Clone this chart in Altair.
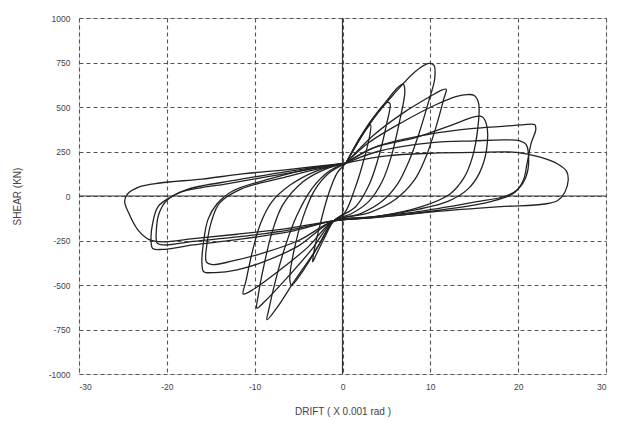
import altair as alt
import pandas as pd

# Hysteresis cycles: (drift x0.001 rad, shear kN)
CYCLE_A = [(0.4, 185), (1.5, 285), (2.6, 370), (3.2, 400), (3.1, 340), (2.3, 180), (1.4, 40), (0.3, -90),
           (-1.0, -140), (-2.0, -230), (-3.0, -330), (-3.4, -370), (-3.2, -300), (-2.5, -150), (-1.6, 10),
           (-0.6, 130), (0.4, 185)]
CYCLE_B = [(0.4, 185), (2.0, 330), (3.8, 460), (5.0, 525), (5.4, 520), (5.0, 400), (4.0, 200), (3.0, 60),
           (1.5, -60), (-1.0, -140), (-2.5, -260), (-4.5, -420), (-5.8, -500), (-6.0, -470), (-5.5, -300),
           (-4.5, -120), (-3.2, 30), (-1.5, 130), (0.4, 185)]
CYCLE_C = [(0.4, 185), (2.5, 360), (4.8, 520), (6.3, 610), (6.9, 628), (7.1, 590), (6.5, 420), (5.6, 230),
           (4.5, 80), (3.0, -30), (1.0, -100), (-1.0, -140), (-3.0, -300), (-5.5, -480), (-7.5, -630),
           (-8.6, -695), (-8.4, -640), (-7.6, -470), (-6.5, -280), (-5.2, -110), (-3.5, 40), (-1.5, 140),
           (0.4, 185)]
CYCLE_D = [(0.4, 185), (3.0, 400), (5.8, 570), (8.3, 700), (9.8, 745), (10.4, 735), (10.5, 660), (9.8, 530),
           (8.7, 350), (7.6, 200), (6.3, 70), (4.5, -30), (2.0, -100), (-1.0, -140), (-3.5, -300),
           (-6.5, -470), (-8.8, -590), (-9.75, -630), (-9.6, -560), (-8.9, -380), (-8.0, -200), (-6.8, -50),
           (-4.5, 80), (-2.0, 150), (0.4, 185)]
CYCLE_E = [(0.4, 185), (3.5, 340), (7.0, 470), (10.0, 560), (11.3, 595), (11.8, 600), (11.5, 540),
           (10.6, 380), (9.5, 220), (8.2, 90), (6.0, -20), (3.0, -95), (-1.0, -140), (-4.0, -290),
           (-7.5, -430), (-10.0, -520), (-11.3, -550), (-11.0, -480), (-10.3, -320), (-9.3, -150),
           (-8.0, -30), (-6.0, 60), (-3.0, 140), (0.4, 185)]
CYCLE_F = [(0.4, 185), (3.0, 300), (7.0, 420), (10.5, 510), (13.0, 560), (14.2, 570), (15.0, 565),
           (15.5, 520), (15.4, 380), (14.8, 220), (13.8, 100), (12.2, 10), (9.0, -60), (4.0, -115),
           (-1.0, -140), (-5.0, -280), (-9.0, -370), (-12.0, -415), (-14.5, -430), (-15.8, -425),
           (-16.0, -380), (-15.8, -250), (-15.3, -130), (-14.3, -45), (-12.5, 28), (-8.0, 100),
           (-4.0, 150), (0.4, 185)]
CYCLE_G = [(0.4, 185), (3.5, 270), (8.4, 330), (12.5, 400), (15.0, 445), (15.9, 445), (16.4, 400),
           (16.4, 260), (15.6, 130), (14.3, 40), (12.0, -30), (7.0, -90), (2.0, -125), (-1.0, -140),
           (-5.0, -250), (-9.0, -320), (-12.5, -365), (-14.8, -385), (-15.5, -370), (-15.4, -260),
           (-14.9, -140), (-14.0, -40), (-11.5, 40), (-7.0, 100), (-3.0, 150), (0.4, 185)]
CYCLE_H = [(0.4, 185), (4.0, 280), (10.2, 350), (15.0, 380), (17.8, 390), (20.5, 400), (21.9, 400),
           (22.0, 370), (21.5, 300), (21.0, 180), (20.6, 90), (19.6, 20), (17.0, -30), (11.0, -80),
           (5.0, -115), (-1.0, -140), (-6.0, -200), (-12.0, -245), (-17.0, -275), (-20.5, -300),
           (-21.6, -295), (-21.8, -250), (-21.6, -150), (-21.0, -60), (-19.7, -10), (-17.5, 40),
           (-12.0, 90), (-6.0, 140), (0.4, 185)]
CYCLE_I = [(0.4, 185), (4.0, 250), (10.2, 300), (15.0, 310), (18.5, 315), (20.2, 310), (20.9, 290),
           (21.2, 200), (20.9, 110), (20.0, 40), (18.6, 0), (15.0, -35), (9.0, -85), (3.0, -120),
           (-1.0, -140), (-6.0, -190), (-12.0, -230), (-17.0, -255), (-20.3, -275), (-21.1, -265),
           (-21.2, -200), (-20.9, -100), (-20.1, -30), (-18.5, 20), (-13.0, 70), (-6.0, 130), (0.4, 185)]
CYCLE_J = [(0.4, 185), (5.0, 225), (10.0, 240), (15.0, 245), (19.8, 245), (22.4, 220), (24.5, 180),
           (25.5, 140), (25.7, 90), (25.3, 20), (24.5, -25), (23.0, -45), (18.0, -60), (10.0, -90),
           (4.0, -120), (-1.0, -140), (-6.0, -180), (-12.0, -215), (-17.0, -240), (-20.5, -258),
           (-22.0, -245), (-23.3, -190), (-24.3, -100), (-24.8, -30), (-24.5, 10), (-23.2, 50),
           (-20.8, 73), (-16.0, 95), (-11.4, 124), (-6.0, 150), (0.4, 185)]

CYCLES = [("A", CYCLE_A), ("B", CYCLE_B), ("C", CYCLE_C), ("D", CYCLE_D), ("E", CYCLE_E),
          ("F", CYCLE_F), ("G", CYCLE_G), ("H", CYCLE_H), ("I", CYCLE_I), ("J", CYCLE_J)]

X_TICKS = [-30, -20, -10, 0, 10, 20, 30]
Y_TICKS = [-1000, -750, -500, -250, 0, 250, 500, 750, 1000]

rows = []
for name, pts in CYCLES:
    for i, (x, y) in enumerate(pts):
        rows.append({"cycle": name, "i": i, "drift": x, "shear": y})
df = pd.DataFrame(rows)

FONT = "Liberation Sans"
xscale = alt.Scale(domain=[-30, 30], nice=False, zero=False)
yscale = alt.Scale(domain=[-1000, 1000], nice=False, zero=False)

x_axis = alt.Axis(values=X_TICKS, title="DRIFT  ( X 0.001 rad )", grid=True, gridDash=[4, 3],
                  gridColor="#555", gridWidth=1.1, domain=False, ticks=False,
                  labelExpr="'' + datum.value",
                  labelPadding=8, titlePadding=16, labelFontSize=8.5,
                  labelColor="#444", titleFontSize=10, titleColor="#444", titleFontWeight="normal",
                  labelFont=FONT, titleFont=FONT)
y_axis = alt.Axis(values=Y_TICKS, title="SHEAR (KN)", grid=True, gridDash=[4, 3], gridColor="#555",
                  gridWidth=1.1, domain=False, ticks=False, labelPadding=9, titlePadding=26,
                  labelExpr="'' + datum.value",
                  labelFontSize=8.5, labelColor="#444", titleFontSize=10, titleColor="#444",
                  titleFontWeight="normal", labelFont=FONT, titleFont=FONT)

loops = alt.Chart(df).mark_line(color="#222", strokeWidth=1.3, interpolate="catmull-rom").encode(
    x=alt.X("drift:Q", scale=xscale, axis=x_axis),
    y=alt.Y("shear:Q", scale=yscale, axis=y_axis),
    detail="cycle:N",
    order="i:Q",
)

zero_x = alt.Chart(pd.DataFrame({"v": [0]})).mark_rule(color="#333", strokeWidth=1.2).encode(
    x=alt.X("v:Q", scale=xscale))
zero_y = alt.Chart(pd.DataFrame({"v": [0]})).mark_rule(color="#333", strokeWidth=1.2).encode(
    y=alt.Y("v:Q", scale=yscale))

chart = alt.layer(zero_x, zero_y, loops).properties(
    width=527, height=356,
    autosize=alt.AutoSizeParams(type="none"),
    padding={"left": 79, "top": 18, "right": 12, "bottom": 54},
).configure_view(stroke="#333", strokeWidth=1.5).configure(background="white")

chart.save("out.html", embed_options={"renderer": "svg", "actions": False})
